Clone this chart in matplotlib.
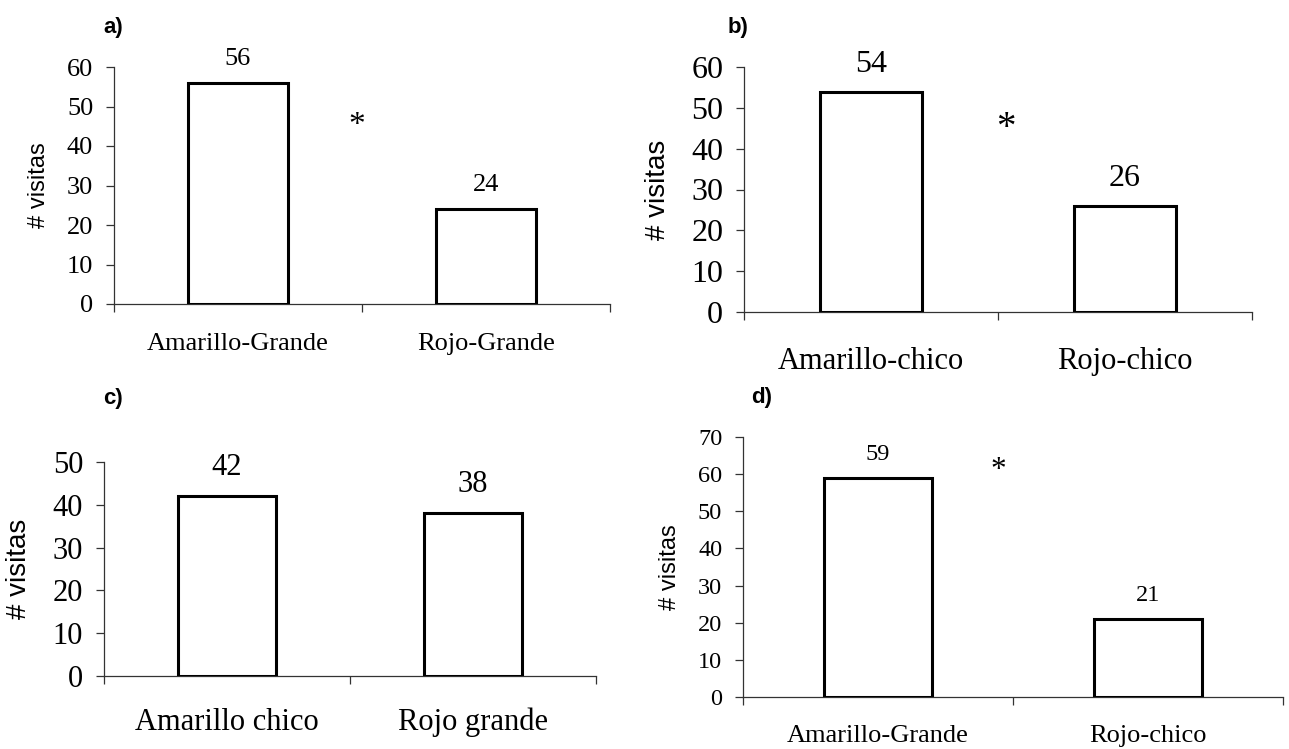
import matplotlib
matplotlib.use("Agg")
import matplotlib.pyplot as plt

# visit counts per flower type, one pair per experiment
cats_a = ["Amarillo-Grande", "Rojo-Grande"]
vals_a = [56, 24]
cats_b = ["Amarillo-chico", "Rojo-chico"]
vals_b = [54, 26]
cats_c = ["Amarillo chico", "Rojo grande"]
vals_c = [42, 38]
cats_d = ["Amarillo-Grande", "Rojo-chico"]
vals_d = [59, 21]

W, H = 1289, 749
fig = plt.figure(figsize=(W / 100, H / 100), dpi=100)
serif = "Liberation Serif"
sans = "Liberation Sans"


def add_axes_px(left, right, bottom, top):
    return fig.add_axes([left / W, 1 - bottom / H, (right - left) / W, (bottom - top) / H])


def panel(box, cats, vals, ymax, tick_fs, cat_fs, ylab_fs, tag, tag_xy,
          star=None, ylab_x=-0.13, cat_pad=22, val_off=18):
    ax = add_axes_px(*box)
    x = range(len(cats))
    ax.bar(x, vals, width=0.4, color="white", edgecolor="black", linewidth=2.2, zorder=3)
    ax.set_xlim(-0.5, len(cats) - 0.5)
    ax.set_ylim(0, ymax)
    ax.set_yticks(range(0, ymax + 1, 10))
    # ticks sit between the categories, names go under the bars
    ax.set_xticks([i - 0.5 for i in range(len(cats) + 1)])
    ax.set_xticklabels([])
    ax.set_xticks(list(x), minor=True)
    ax.set_xticklabels(cats, minor=True, fontsize=cat_fs, family=serif)
    ax.tick_params(axis="x", which="minor", length=0, pad=cat_pad)
    ax.tick_params(axis="x", which="major", length=6, width=0.9, color="#333333")
    ax.tick_params(axis="y", length=6, width=0.9, color="#333333", pad=9)
    for lab in ax.get_yticklabels():
        lab.set_fontsize(tick_fs)
        lab.set_family(serif)
    for s in ["top", "right"]:
        ax.spines[s].set_visible(False)
    for s in ["left", "bottom"]:
        ax.spines[s].set_linewidth(0.9)
        ax.spines[s].set_color("#333333")
    ax.set_ylabel("# visitas", fontsize=ylab_fs, family=sans)
    ax.yaxis.set_label_coords(ylab_x, 0.5)
    for xi, v in zip(x, vals):
        ax.annotate(str(v), (xi, v), xytext=(0, val_off), textcoords="offset pixels",
                    ha="center", va="baseline", fontsize=tick_fs, family=serif)
    if star is not None:
        ax.text(star[0], star[1], "*", ha="center", va="center",
                fontsize=tick_fs + 5, family=serif)
    fig.text(tag_xy[0] / W, 1 - tag_xy[1] / H, tag, ha="center", va="center",
             fontsize=16, fontweight="bold", family=sans)
    return ax


panel((114, 610, 304, 67), cats_a, vals_a, 60, 19, 19, 17, "a)", (113, 27),
      star=(0.48, 45), ylab_x=-0.129, cat_pad=21, val_off=18)
panel((744, 1252, 312, 67), cats_b, vals_b, 60, 23, 22, 20, "b)", (738, 27),
      star=(0.53, 45), ylab_x=-0.144, cat_pad=25, val_off=20)
panel((104, 596, 676, 462), cats_c, vals_c, 50, 22, 22, 20, "c)", (113, 398),
      ylab_x=-0.147, cat_pad=23, val_off=21)
panel((743, 1283, 697, 437), cats_d, vals_d, 70, 17.5, 19, 17, "d)", (762, 397),
      star=(0.444, 61), ylab_x=-0.115, cat_pad=20, val_off=18)

fig.savefig("out.png", dpi=100, facecolor="white")
